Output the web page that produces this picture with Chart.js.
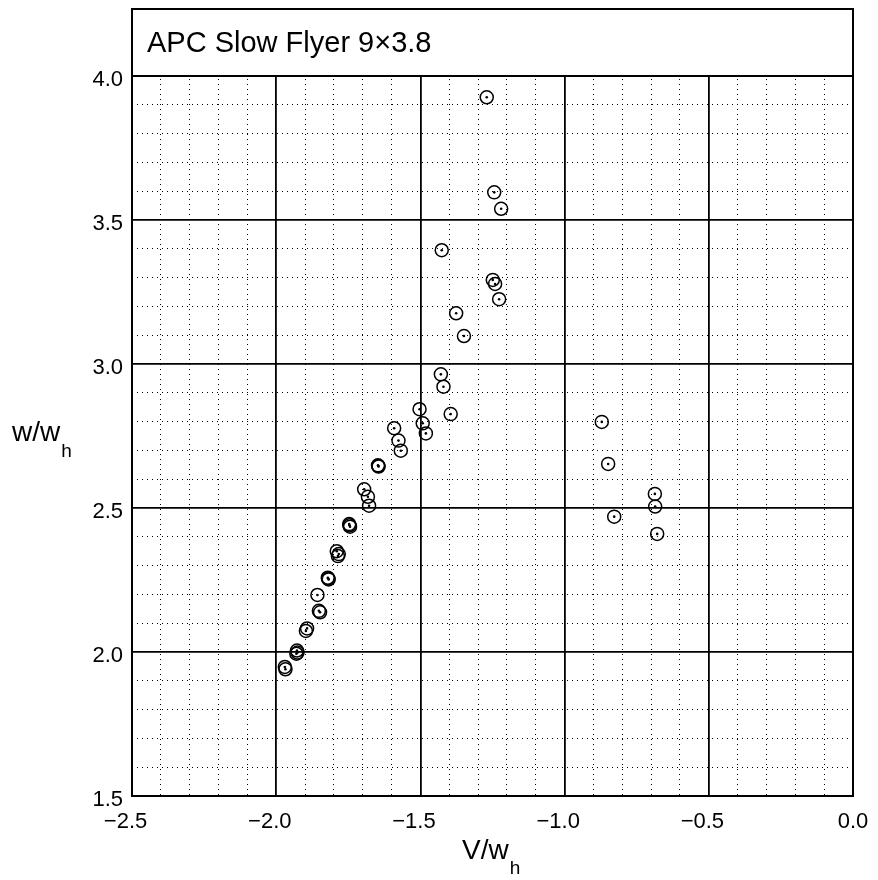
<!DOCTYPE html>
<html>
<head>
<meta charset="utf-8">
<title>APC Slow Flyer 9×3.8</title>
<script src="https://cdn.jsdelivr.net/npm/chart.js@4/dist/chart.umd.min.js"></script>
<style>
  html, body { margin: 0; padding: 0; background: #fff; }
  #wrap { width: 878px; height: 880px; }
</style>
</head>
<body>
<div id="wrap"><canvas id="propChart" width="878" height="880"></canvas></div>
<script>
// measured points: V/w_h against w/w_h
const vRatio = [
  -1.270, -1.244, -1.220, -1.426, -1.249, -1.241, -1.227, -1.376, -1.349,
  -1.429, -1.420, -1.503, -1.395, -1.492, -1.481, -1.591, -1.576, -1.568,
  -1.646, -1.645, -1.647, -1.695, -1.682, -1.678, -1.747, -1.744, -1.746,
  -1.790, -1.786, -1.783, -1.820, -1.818, -1.821, -1.857, -1.852, -1.848,
  -1.893, -1.897, -1.928, -1.926, -1.930, -1.970, -1.968,
  -0.871, -0.849, -0.687, -0.686, -0.828, -0.679
];
const wRatio = [
  3.926, 3.596, 3.539, 3.395, 3.292, 3.278, 3.225, 3.176, 3.097,
  2.964, 2.921, 2.843, 2.826, 2.794, 2.759, 2.777, 2.734, 2.699,
  2.646, 2.644, 2.648, 2.565, 2.539, 2.508, 2.444, 2.435, 2.440,
  2.350, 2.333, 2.340, 2.255, 2.252, 2.258, 2.198, 2.143, 2.138,
  2.082, 2.073, 2.005, 1.998, 1.994, 1.948, 1.940,
  2.799, 2.653, 2.549, 2.505, 2.470, 2.410
];

const xTicks = [-2.5, -2.0, -1.5, -1.0, -0.5, 0.0];
const xTickLabels = ['\u22122.5', '\u22122.0', '\u22121.5', '\u22121.0', '\u22120.5', '0.0'];
const yTicks = [1.5, 2.0, 2.5, 3.0, 3.5, 4.0];
const yTickLabels = ['1.5', '2.0', '2.5', '3.0', '3.5', '4.0'];

const chartTitle = 'APC Slow Flyer 9\u00d73.8';
const xMin = -2.5, xMax = 0.0;
const yMin = 1.5, yMax = 4.2326;   // space above 4.0 holds the title box
const gridTop = 4.0;
const minorStep = 0.1;

const FONT = '"Liberation Sans", Arial, Helvetica, sans-serif';

const points = vRatio.map((v, i) => ({ x: v, y: wRatio[i] }));

// grid every 0.1, solid on the 0.5 lines
function gridValues(lo, hi) {
  const vals = [];
  const n = Math.round((hi - lo) / minorStep);
  for (let i = 0; i <= n; i++) vals.push({ value: Math.round((lo + i * minorStep) * 10) / 10 });
  return vals;
}
const isMajor = (v) => Math.abs(v * 2 - Math.round(v * 2)) < 1e-6;

const gridOpts = {
  drawTicks: false,
  color: '#000',
  lineWidth: (c) => (isMajor(c.tick.value) ? 1.8 : 1),
};
const borderOpts = {
  display: false,
  dash: (c) => (c.tick && isMajor(c.tick.value) ? [] : [1, 4]),
};

const decorPlugin = {
  id: 'decor',
  beforeDatasetsDraw(chart) {
    const { ctx, chartArea: a, scales: { y } } = chart;
    const yb = y.getPixelForValue(gridTop);
    ctx.save();
    // title box across the top of the plot
    ctx.fillStyle = '#fff';
    ctx.fillRect(a.left, a.top, a.right - a.left, yb - a.top);
    ctx.strokeStyle = '#000';
    ctx.lineWidth = 2;
    ctx.beginPath();
    ctx.moveTo(a.left, yb);
    ctx.lineTo(a.right, yb);
    ctx.stroke();
    ctx.fillStyle = '#000';
    ctx.font = '29px ' + FONT;
    ctx.textAlign = 'left';
    ctx.textBaseline = 'alphabetic';
    ctx.fillText(chartTitle, a.left + 15, a.top + 43);
    ctx.restore();
  },
  afterDraw(chart) {
    const { ctx, chartArea: a, scales: { x, y } } = chart;
    ctx.save();
    ctx.strokeStyle = '#000';
    ctx.lineWidth = 2;
    ctx.strokeRect(a.left, a.top, a.right - a.left, a.bottom - a.top);

    ctx.fillStyle = '#000';
    ctx.font = '22px ' + FONT;
    ctx.textBaseline = 'alphabetic';

    // x labels: the number sits centred on the tick, the minus hangs left
    ctx.textAlign = 'center';
    const mw = ctx.measureText('\u2212').width;
    xTicks.forEach((v, i) => {
      const lbl = xTickLabels[i];
      const shift = lbl.startsWith('\u2212') ? mw / 2 : 0;
      ctx.fillText(lbl, x.getPixelForValue(v) - shift, a.bottom + 32);
    });

    ctx.textAlign = 'right';
    yTicks.forEach((v, i) => {
      ctx.fillText(yTickLabels[i], a.left - 9, y.getPixelForValue(v) + 10);
    });

    // axis titles with subscript h
    ctx.textAlign = 'left';
    ctx.font = '28px ' + FONT;
    ctx.fillText('w/w', 12, 441);
    let w = ctx.measureText('w/w').width;
    ctx.font = '19px ' + FONT;
    ctx.fillText('h', 12 + w + 1, 457);

    ctx.font = '28px ' + FONT;
    ctx.fillText('V/w', 462, 859);
    w = ctx.measureText('V/w').width;
    ctx.font = '19px ' + FONT;
    ctx.fillText('h', 462 + w + 1, 874);
    ctx.restore();
  },
};

new Chart(document.getElementById('propChart'), {
  type: 'scatter',
  data: {
    datasets: [
      {
        data: points,
        pointStyle: 'circle',
        pointRadius: 6.5,
        pointBorderWidth: 1.5,
        pointBorderColor: '#000',
        pointBackgroundColor: 'rgba(0,0,0,0)',
      },
      {
        data: points,
        pointStyle: 'circle',
        pointRadius: 1.3,
        pointBorderWidth: 0,
        pointBackgroundColor: '#000',
      },
    ],
  },
  options: {
    responsive: false,
    animation: false,
    events: [],
    layout: { padding: { left: 132, right: 25, top: 9, bottom: 84 } },
    plugins: { legend: { display: false }, tooltip: { enabled: false } },
    scales: {
      x: {
        type: 'linear',
        min: xMin,
        max: xMax,
        afterBuildTicks: (s) => { s.ticks = gridValues(xMin, xMax); },
        ticks: { display: false },
        grid: gridOpts,
        border: borderOpts,
      },
      y: {
        type: 'linear',
        min: yMin,
        max: yMax,
        afterBuildTicks: (s) => { s.ticks = gridValues(yMin, gridTop); },
        ticks: { display: false },
        grid: gridOpts,
        border: borderOpts,
      },
    },
  },
  plugins: [decorPlugin],
});
</script>
</body>
</html>
